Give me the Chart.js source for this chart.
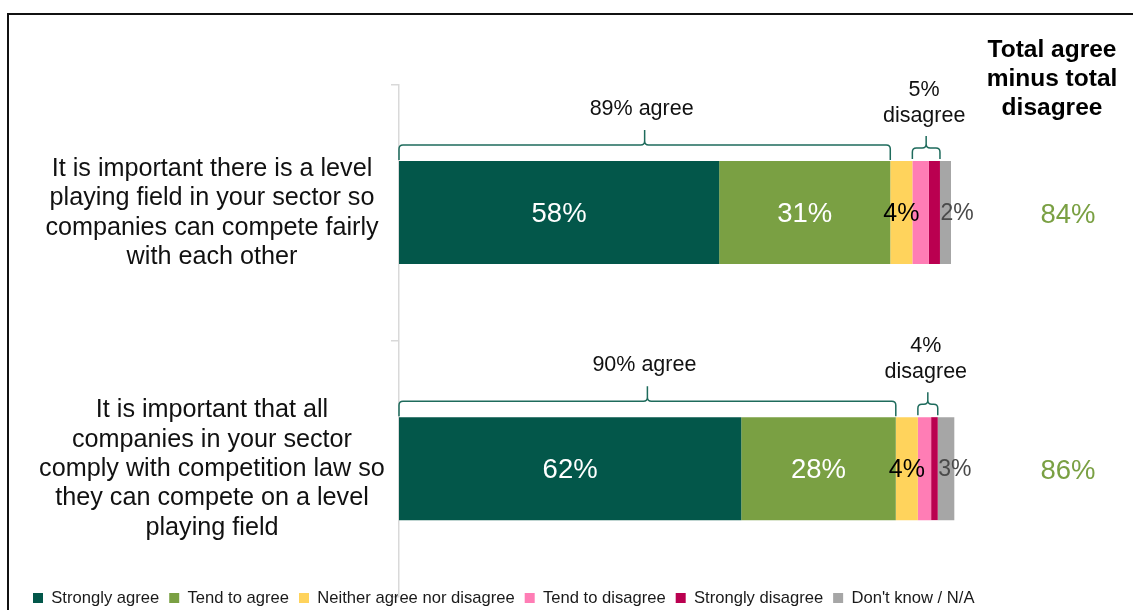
<!DOCTYPE html>
<html>
<head>
<meta charset="utf-8">
<script src="https://cdn.jsdelivr.net/npm/chart.js@4.4.1/dist/chart.umd.min.js"></script>
<style>
  html, body { margin: 0; padding: 0; background: #fff; overflow: hidden; }
  #wrap { position: relative; width: 1133px; height: 610px; }
</style>
</head>
<body>
<div id="wrap"><canvas id="c" width="1133" height="610"></canvas></div>
<script>
// Statements (one row each, already split into display lines)
const categories = [
  ['It is important there is a level', 'playing field in your sector so', 'companies can compete fairly', 'with each other'],
  ['It is important that all', 'companies in your sector', 'comply with competition law so', 'they can compete on a level', 'playing field']
];

// Response series (percent of respondents)
const seriesNames = ['Strongly agree', 'Tend to agree', 'Neither agree nor disagree', 'Tend to disagree', 'Strongly disagree', "Don't know / N/A"];
const stronglyAgree    = [58, 62];
const tendToAgree      = [31, 28];
const neitherAgree     = [4, 4];
const tendToDisagree   = [3, 2.4];
const stronglyDisagree = [2, 1.2];
const dontKnow         = [2, 3];

// Header of the net-score column
const netHeader = ['Total agree', 'minus total', 'disagree'];

const seriesValues = [stronglyAgree, tendToAgree, neitherAgree, tendToDisagree, stronglyDisagree, dontKnow];
const seriesColors = ['#03574A', '#7AA043', '#FFD35C', '#FF7DB5', '#BA0050', '#A6A6A6'];

// How each series prints its value on the bar (null = no label)
const valueLabelStyle = [
  { color: '#ffffff', size: 27.5, align: 'center' },
  { color: '#ffffff', size: 27.5, align: 'center' },
  { color: '#000000', size: 25, align: 'center' },
  null,
  null,
  { color: '#4a4a4a', size: 23, align: 'left' }
];

const FONT = "'Liberation Sans', Arial, Helvetica, sans-serif";
Chart.defaults.font.family = FONT;

// The statement axis runs down behind the top of the legend row
const AXIS_OVERHANG = 17;

const fmt = v => Math.round(v) + '%';

// Curly bracket drawn above a span of the bar
function drawBracket(ctx, x0, x1, yEnd, yLine, yPeak) {
  const r = 4;
  const xm = (x0 + x1) / 2;
  ctx.beginPath();
  ctx.moveTo(x0, yEnd);
  ctx.lineTo(x0, yLine + r);
  ctx.quadraticCurveTo(x0, yLine, x0 + r, yLine);
  ctx.lineTo(xm - r, yLine);
  ctx.quadraticCurveTo(xm, yLine, xm, yLine - r);
  ctx.lineTo(xm, yPeak);
  ctx.moveTo(xm, yLine - r);
  ctx.quadraticCurveTo(xm, yLine, xm + r, yLine);
  ctx.lineTo(x1 - r, yLine);
  ctx.quadraticCurveTo(x1, yLine, x1, yLine + r);
  ctx.lineTo(x1, yEnd);
  ctx.stroke();
}

const annotations = {
  id: 'annotations',
  afterLayout(chart) {
    const ys = chart.scales.y;
    ys.bottom += AXIS_OVERHANG;
    ys.height = ys.bottom - ys.top;
    ys.configure();
  },
  afterDatasetsDraw(chart) {
    const ctx = chart.ctx;
    ctx.save();
    ctx.textBaseline = 'middle';
    chart.data.datasets.forEach((ds, di) => {
      const st = valueLabelStyle[di];
      if (!st) return;
      const meta = chart.getDatasetMeta(di);
      meta.data.forEach((el, i) => {
        const p = el.getProps(['x', 'base', 'y'], true);
        ctx.font = st.size + 'px ' + FONT;
        ctx.fillStyle = st.color;
        if (st.align === 'left') {
          ctx.textAlign = 'left';
          ctx.fillText(fmt(ds.data[i]), Math.min(p.x, p.base) + 0.5, p.y + 1.5);
        } else {
          ctx.textAlign = 'center';
          ctx.fillText(fmt(ds.data[i]), (p.x + p.base) / 2, p.y + 1.5);
        }
      });
    });
    ctx.restore();
  },
  afterDraw(chart) {
    const ctx = chart.ctx;
    const xs = chart.scales.x;
    const ys = chart.scales.y;
    ctx.save();

    // frame
    ctx.strokeStyle = '#111';
    ctx.lineWidth = 2;
    ctx.beginPath();
    ctx.moveTo(8, 640);
    ctx.lineTo(8, 14);
    ctx.lineTo(1160, 14);
    ctx.stroke();

    // statements on the left
    ctx.fillStyle = '#111';
    ctx.textAlign = 'center';
    ctx.textBaseline = 'middle';
    ctx.font = '25.2px ' + FONT;
    const lh = 29.3;
    categories.forEach((lines, i) => {
      const yc = ys.getPixelForValue(i);
      lines.forEach((t, k) => {
        ctx.fillText(t, 212, yc + 0.5 + (k - (lines.length - 1) / 2) * lh);
      });
    });

    // net score header
    ctx.font = 'bold 24.5px ' + FONT;
    ctx.fillStyle = '#000';
    netHeader.forEach((t, k) => ctx.fillText(t, 1052, 50 + k * 29));

    const barMeta = chart.getDatasetMeta(0);
    categories.forEach((_, i) => {
      const el = barMeta.data[i];
      const p = el.getProps(['y', 'height'], true);
      const top = p.y - p.height / 2;
      const agree = stronglyAgree[i] + tendToAgree[i];
      const disagree = tendToDisagree[i] + stronglyDisagree[i];
      const dStart = agree + neitherAgree[i];

      // agree bracket
      ctx.strokeStyle = '#1E6B5C';
      ctx.lineWidth = 1.5;
      const a0 = xs.getPixelForValue(0), a1 = xs.getPixelForValue(agree);
      drawBracket(ctx, a0, a1, top - 1, top - 16, top - 31);
      ctx.fillStyle = '#111';
      ctx.font = '21.5px ' + FONT;
      ctx.fillText(fmt(agree) + ' agree', (a0 + a1) / 2 - 3, top - 52);

      // disagree bracket
      const d0 = xs.getPixelForValue(dStart), d1 = xs.getPixelForValue(dStart + disagree);
      drawBracket(ctx, d0, d1, top - 2, top - 13, top - 25);
      const dm = (d0 + d1) / 2;
      ctx.fillText(fmt(disagree), dm - 2, top - 71);
      ctx.fillText('disagree', dm - 2, top - 45);

      // net score
      ctx.font = '27.5px ' + FONT;
      ctx.fillStyle = '#7AA043';
      ctx.fillText(fmt(agree - disagree), 1068, p.y + 2.5);
    });
    ctx.restore();
  }
};

new Chart(document.getElementById('c'), {
  type: 'bar',
  data: {
    labels: categories.map(l => l.join(' ')),
    datasets: seriesValues.map((d, i) => ({
      label: seriesNames[i],
      data: d,
      backgroundColor: seriesColors[i],
      borderWidth: 0,
      categoryPercentage: 1,
      barPercentage: 0.402,
      clip: false
    }))
  },
  options: {
    indexAxis: 'y',
    responsive: false,
    animation: false,
    layout: { padding: { top: 84.5, left: 23, right: 0, bottom: -6.3 } },
    scales: {
      x: { stacked: true, min: 0, max: 100, display: false },
      y: {
        stacked: true,
        position: 'left',
        ticks: { display: false },
        grid: { display: true, drawOnChartArea: false, drawTicks: true, tickLength: 8, color: '#d9d9d9', lineWidth: 1.5, offset: true },
        border: { display: true, color: '#d9d9d9', width: 1.5 },
        afterFit: s => { s.width = 376; }
      },
      y2: {
        type: 'category',
        labels: [],
        position: 'right',
        display: true,
        grid: { display: false },
        ticks: { display: false },
        border: { display: false },
        afterFit: s => { s.width = 182; }
      }
    },
    plugins: {
      legend: {
        position: 'bottom',
        align: 'start',
        labels: { boxWidth: 10, boxHeight: 10, padding: 10, color: '#1a1a1a', font: { size: 16.6 } }
      },
      tooltip: { enabled: false }
    }
  },
  plugins: [annotations]
});
</script>
</body>
</html>
